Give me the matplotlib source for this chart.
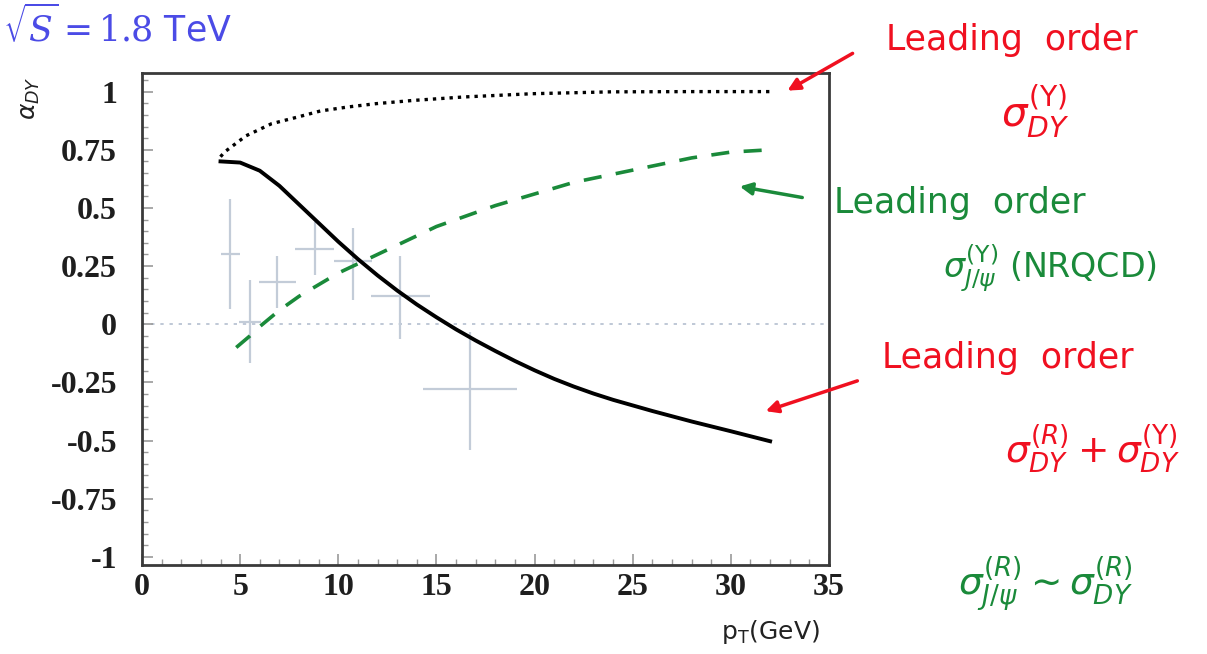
import numpy as np
import matplotlib
matplotlib.use('Agg')
import matplotlib.pyplot as plt
from matplotlib.ticker import MultipleLocator

# curves
pt_dy_y = [4.0, 4.2, 5.3, 6.6, 7.9, 9.1, 10.5, 11.9, 13.8, 16.4, 19.9, 23.9, 28.0, 32.1]
dy_y = [0.72, 0.74, 0.81, 0.862, 0.89, 0.917, 0.934, 0.948, 0.962, 0.977, 0.991, 0.999, 1.0, 1.0]

pt_sum = [4.0, 5.0, 6.0, 7.0, 8.0, 9.0, 10.0, 11.0, 12.0, 13.0, 14.0, 15.0, 16.0, 17.0,
          18.0, 19.0, 20.0, 21.0, 22.0, 23.0, 24.0, 26.0, 28.0, 30.0, 32.0]
dy_sum = [0.70, 0.695, 0.66, 0.595, 0.515, 0.435, 0.355, 0.28, 0.21, 0.145, 0.085, 0.03,
          -0.022, -0.07, -0.115, -0.158, -0.198, -0.235, -0.268, -0.298, -0.325, -0.373,
          -0.418, -0.46, -0.503]

pt_nrqcd = [4.8, 5.5, 6.0, 7.0, 8.0, 9.0, 10.0, 11.0, 12.0, 13.0, 14.0, 15.0, 16.0, 18.0,
            20.0, 22.0, 24.0, 26.0, 28.0, 30.0, 32.0]
nrqcd = [-0.10, -0.05, -0.01, 0.06, 0.12, 0.17, 0.22, 0.26, 0.30, 0.34, 0.38, 0.42, 0.45,
         0.51, 0.56, 0.61, 0.645, 0.68, 0.715, 0.74, 0.75]

# data points
pt_data = [4.5, 5.5, 6.9, 8.8, 10.75, 13.15, 16.7]
a_data = [0.30, 0.01, 0.18, 0.325, 0.27, 0.12, -0.28]
err_lo = [0.235, 0.175, 0.11, 0.115, 0.165, 0.185, 0.26]
err_hi = [0.24, 0.18, 0.115, 0.115, 0.145, 0.175, 0.245]
pt_err = [0.5, 0.55, 0.95, 1.0, 0.97, 1.5, 2.4]

W, H = 1207, 654
fig = plt.figure(figsize=(W / 100, H / 100), dpi=100)


def px(x, y):
    return x / W, 1 - y / H


ax = fig.add_axes([142 / W, 1 - 565 / H, (829 - 142) / W, (565 - 73) / H])

ax.axhline(0, color='#b4bfcf', lw=1.2, ls=(0, (2, 3.5)), zorder=1)
ax.errorbar(pt_data, a_data, yerr=[err_lo, err_hi], xerr=pt_err, fmt='none',
            ecolor='#c3ccd8', elinewidth=1.6, capsize=0, zorder=2)
ax.plot(pt_dy_y, dy_y, color='black', lw=2.4, ls=(0, (1, 1.5)), zorder=3)
ax.plot(pt_sum, dy_sum, color='black', lw=2.8, zorder=3)
ax.plot(pt_nrqcd, nrqcd, color='#1a8a3a', lw=2.6, ls=(0, (5, 4)), zorder=3)

ax.set_xlim(0, 35)
ax.set_ylim(-1.035, 1.08)
ax.xaxis.set_major_locator(MultipleLocator(5))
ax.xaxis.set_minor_locator(MultipleLocator(1))
ax.yaxis.set_major_locator(MultipleLocator(0.25))
ax.yaxis.set_minor_locator(MultipleLocator(0.05))
ax.set_yticks([1, 0.75, 0.5, 0.25, 0, -0.25, -0.5, -0.75, -1])
ax.set_yticklabels(['1', '0.75', '0.5', '0.25', '0', '-0.25', '-0.5', '-0.75', '-1'])
ax.tick_params(which='both', direction='in', color='#9a9a9a', top=False, right=False)
ax.tick_params(which='major', length=8, width=1.2)
ax.tick_params(which='minor', length=4, width=1)
ax.tick_params(axis='y', which='major', pad=18)
ax.tick_params(axis='x', which='major', pad=6)
for lab in ax.get_xticklabels() + ax.get_yticklabels():
    lab.set_fontfamily('Liberation Serif')
    lab.set_fontweight('bold')
    lab.set_fontsize(23)
    lab.set_color('#1e1e1e')
for sp in ax.spines.values():
    sp.set_color('#3a3a3a')
    sp.set_linewidth(2)

# energy label at top left
fig.text(*px(3, 4), r'$\sqrt{S} = 1.8$ TeV', color='#4b4be6', fontsize=25,
         ha='left', va='top', math_fontfamily='dejavuserif')

fig.text(*px(30, 98), r'$\alpha_{DY}$', rotation=90, fontsize=18, ha='center',
         va='center', color='#222222')
fig.text(*px(770, 632), r'p$_\mathregular{T}$(GeV)', fontsize=18, ha='center',
         va='center', color='#222222')

red = '#f01020'
green = '#1a8a3a'

# handwritten notes
fig.text(*px(1012, 40), 'Leading  order', color=red, fontsize=25, ha='center', va='center')
fig.text(*px(1035, 112), r'$\sigma^{(\Upsilon)}_{DY}$', color=red, fontsize=29,
         ha='center', va='center')
fig.text(*px(960, 203), 'Leading  order', color=green, fontsize=25, ha='center', va='center')
fig.text(*px(1050, 268), r'$\sigma^{(\Upsilon)}_{J/\psi}$ (NRQCD)', color=green,
         fontsize=24, ha='center', va='center')
fig.text(*px(1008, 358), 'Leading  order', color=red, fontsize=25, ha='center', va='center')
fig.text(*px(1092, 450), r'$\sigma^{(R)}_{DY} + \sigma^{(\Upsilon)}_{DY}$', color=red,
         fontsize=27, ha='center', va='center')
fig.text(*px(1045, 585), r'$\sigma^{(R)}_{J/\psi} \sim \sigma^{(R)}_{DY}$', color=green,
         fontsize=27, ha='center', va='center')

arrows = [((855, 52), (785, 92), red), ((805, 198), (737, 186), green),
          ((860, 380), (763, 412), red)]
for tail, head, col in arrows:
    fig.add_artist(matplotlib.patches.FancyArrowPatch(
        px(*tail), px(*head), transform=fig.transFigure, arrowstyle='-|>',
        mutation_scale=18, color=col, lw=2.5))

fig.savefig('out.png', dpi=100)
